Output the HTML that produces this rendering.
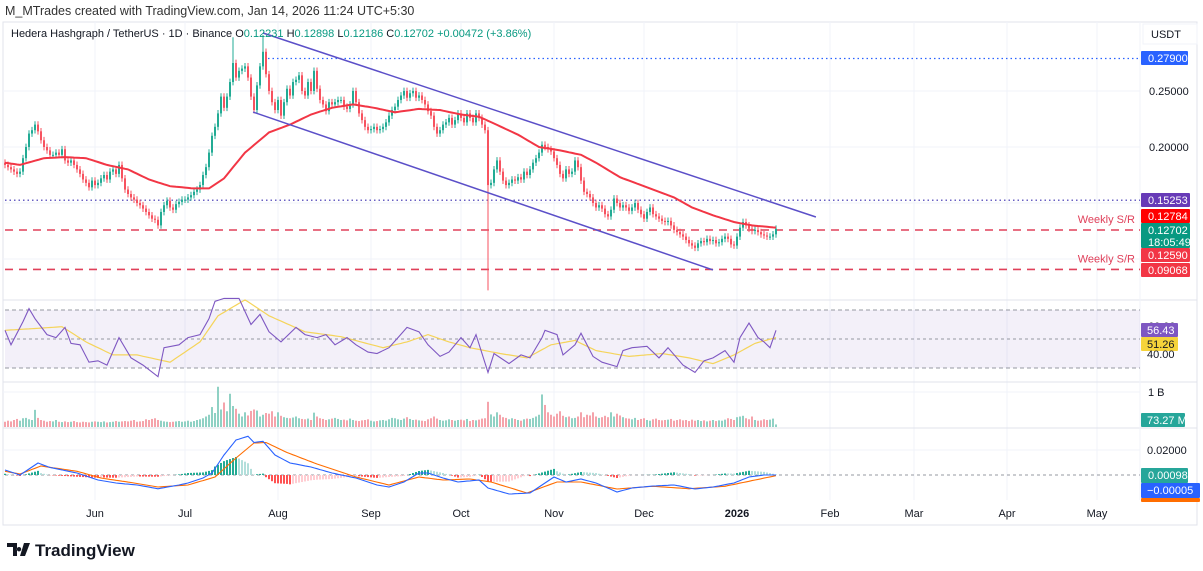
<!DOCTYPE html>
<html><head><meta charset="utf-8"><style>
html,body{margin:0;padding:0;background:#fff;}
svg{display:block;font-family:"Liberation Sans",sans-serif;}
</style></head><body>
<svg id="c" width="1203" height="571" viewBox="0 0 1203 571">
<text x="5" y="15" font-size="12.5" fill="#333">M_MTrades created with TradingView.com, Jan 14, 2026 11:24 UTC+5:30</text>
<rect x="3" y="22" width="1194" height="503" fill="none" stroke="#e0e3eb"/>
<g id="grid"></g>
<g id="price"></g>
<g id="rsi"></g>
<g id="vol"></g>
<g id="macd"></g>
<g id="axis"></g>
<text x="11" y="37" font-size="11" fill="#131722">Hedera Hashgraph / TetherUS · 1D · Binance  <tspan fill="#131722">O</tspan><tspan fill="#089981">0.12231</tspan><tspan fill="#131722">  H</tspan><tspan fill="#089981">0.12898</tspan><tspan fill="#131722">  L</tspan><tspan fill="#089981">0.12186</tspan><tspan fill="#131722">  C</tspan><tspan fill="#089981">0.12702  +0.00472 (+3.86%)</tspan></text>
<g>
<path d="M7 543h10v13h-4v-9h-6z M19 547a2.2 2.2 0 1 0 0.01 0z M24 543h6l-5 13h-5z" fill="#131722"/>
<text x="35" y="556" font-size="17" font-weight="bold" fill="#131722">TradingView</text>
</g>
</svg>
<script>
const closes=[0.184,0.182,0.180,0.178,0.176,0.178,0.190,0.200,0.212,0.215,
0.220,0.214,0.206,0.200,0.197,0.193,0.193,0.195,0.193,0.198,
0.188,0.186,0.188,0.184,0.180,0.176,0.171,0.168,0.164,0.170,
0.166,0.168,0.172,0.175,0.171,0.178,0.180,0.176,0.184,0.172,
0.162,0.158,0.155,0.153,0.150,0.148,0.145,0.142,0.139,0.136,
0.135,0.130,0.142,0.148,0.152,0.146,0.144,0.149,0.151,0.153,
0.153,0.155,0.157,0.160,0.162,0.166,0.175,0.182,0.195,0.210,
0.218,0.230,0.245,0.235,0.245,0.258,0.275,0.262,0.268,0.270,
0.272,0.262,0.245,0.233,0.255,0.272,0.285,0.265,0.250,0.240,
0.233,0.242,0.228,0.240,0.252,0.246,0.258,0.260,0.264,0.250,
0.246,0.258,0.250,0.268,0.252,0.242,0.238,0.232,0.240,0.238,
0.240,0.242,0.242,0.236,0.234,0.238,0.250,0.240,0.230,0.224,
0.218,0.215,0.216,0.218,0.215,0.216,0.218,0.222,0.228,0.233,
0.236,0.242,0.246,0.250,0.244,0.248,0.250,0.244,0.246,0.242,
0.238,0.232,0.228,0.218,0.212,0.215,0.220,0.222,0.226,0.220,
0.224,0.230,0.226,0.222,0.230,0.226,0.222,0.230,0.226,0.220,
0.215,0.166,0.168,0.180,0.188,0.178,0.170,0.166,0.168,0.171,
0.170,0.173,0.171,0.178,0.175,0.180,0.186,0.190,0.195,0.202,
0.200,0.198,0.196,0.190,0.184,0.176,0.172,0.180,0.176,0.178,
0.188,0.182,0.170,0.160,0.158,0.155,0.150,0.146,0.148,0.145,
0.140,0.138,0.144,0.154,0.150,0.146,0.148,0.146,0.143,0.146,
0.150,0.144,0.140,0.136,0.142,0.146,0.140,0.138,0.136,0.134,
0.133,0.134,0.130,0.126,0.124,0.122,0.120,0.117,0.114,0.112,
0.110,0.114,0.116,0.115,0.118,0.116,0.117,0.114,0.115,0.118,
0.120,0.118,0.113,0.112,0.120,0.128,0.133,0.130,0.127,0.125,
0.126,0.124,0.122,0.121,0.120,0.120,0.122,0.127];
const firstOpen=0.186;
const wickHighIdx=[76,86];
const wickHighVal=[0.298,0.300];
const wickLowIdx=[161];
const wickLowVal=[0.072];
const volumes=[150,180,160,200,230,180,250,260,220,200,
490,260,200,180,150,170,160,200,150,140,
160,140,150,170,140,130,150,140,130,150,
160,150,140,160,130,140,150,170,150,160,
170,160,180,200,150,160,170,220,200,230,
250,200,180,160,150,140,150,160,170,150,
160,180,150,170,200,220,250,300,350,570,
400,1150,500,700,450,950,600,520,380,300,
420,330,460,500,470,300,350,400,380,450,
300,420,320,280,260,250,270,300,250,230,
220,240,200,410,300,250,230,200,220,240,
260,230,200,210,190,240,200,180,170,190,
200,220,180,160,170,190,200,180,220,260,
250,220,200,240,280,230,200,210,190,180,
170,220,250,300,240,200,180,190,220,200,
180,200,210,190,230,170,200,190,210,240,
250,720,360,300,420,350,280,260,220,250,
230,200,180,220,240,230,260,300,350,930,
630,420,350,300,380,450,320,280,300,250,
260,300,420,280,350,330,420,300,260,280,
320,280,420,300,380,330,280,250,240,220,
260,200,230,250,200,180,220,240,200,190,
200,210,230,180,200,220,190,200,170,210,
180,200,170,190,160,180,200,170,190,180,
210,250,230,200,280,300,320,250,220,300,
200,180,190,220,200,210,240,73];
const maIdx=[0,5,13,20,27,34,41,48,55,63,68,73,80,88,95,102,109,116,123,130,138,145,152,158,163,171,178,185,192,197,205,214,223,229,236,243,249,257];
const maVal=[0.186,0.184,0.190,0.191,0.190,0.184,0.180,0.171,0.165,0.163,0.163,0.172,0.195,0.213,0.220,0.229,0.235,0.238,0.235,0.231,0.234,0.233,0.229,0.227,0.221,0.211,0.200,0.197,0.193,0.186,0.173,0.164,0.155,0.146,0.139,0.133,0.130,0.128];
const rsiIdx=[0,2,6,8,10,14,17,20,22,25,28,31,34,38,42,46,51,53,58,61,65,68,70,73,78,82,85,88,92,97,100,104,107,110,114,117,121,124,128,131,134,138,141,145,148,152,155,157,161,163,168,172,175,179,180,184,186,190,192,196,199,204,206,209,214,218,221,226,230,233,236,240,243,245,248,251,253,255,257];
const rsiVal=[56,46,62,71,64,53,51,58,47,46,34,35,32,51,37,32,24,44,46,51,53,64,76,78,78,60,67,55,48,58,53,51,53,46,51,46,41,40,44,51,58,55,46,38,41,51,44,53,27,40,33,39,37,51,56,53,39,46,54,38,34,31,42,44,45,37,44,32,27,35,37,42,34,51,61,51,48,44,56];
const rsiMaIdx=[0,8,19,27,36,44,55,65,71,80,88,100,112,126,134,141,148,155,165,174,182,190,197,208,219,228,236,243,250,257];
const rsiMaVal=[56,57,58.5,48,39,39,34,48,66,77,66,55,51.6,44,48,53,48,44,40,37,46,49,42,38,40,37,33,39,47,51];
const macdIdx=[0,5,11,15,24,31,37,44,51,58,61,66,69,73,77,81,83,86,90,95,102,109,117,124,128,133,138,141,146,151,158,161,168,175,180,183,187,192,197,204,209,216,223,230,236,243,248,253,257];
const macdVal=[0.004,0,0.0096,0.006,0.0016,-0.004,-0.0064,-0.008,-0.011,-0.008,-0.0064,-0.0024,0.0016,0.016,0.028,0.031,0.026,0.027,0.016,0.0096,0.0064,0.0016,-0.0024,-0.008,-0.0096,-0.0056,0.0016,0.0016,-0.0024,-0.0056,-0.004,-0.0104,-0.0152,-0.0144,-0.0064,-0.0016,-0.0056,-0.0032,-0.0064,-0.0136,-0.0104,-0.0088,-0.008,-0.0112,-0.0096,-0.0064,-0.0016,0,0];
const sigIdx=[0,5,12,24,32,43,51,61,70,77,83,87,94,104,117,128,138,146,155,162,174,184,192,204,216,228,240,250,257];
const sigVal=[0.003,0.0008,0.0072,0.003,-0.0024,-0.0064,-0.0096,-0.008,-0.0016,0.0136,0.0256,0.026,0.018,0.0088,-0.0016,-0.008,-0.0016,-0.004,-0.0032,-0.0056,-0.0144,-0.0056,-0.0056,-0.0112,-0.009,-0.011,-0.009,-0.004,-0.0005];
const monthLabels=["Jun","Jul","Aug","Sep","Oct","Nov","Dec","2026","Feb","Mar","Apr","May"];
const monthDayIdx=[30,60,91,122,152,183,213,244,275,303,334,364];
const priceTicks=[0.25,0.20];
const priceGrid=[0.10,0.15,0.20,0.25];

const NS="http://www.w3.org/2000/svg";
function el(tag,attrs,parent){const e=document.createElementNS(NS,tag);for(const k in attrs)e.setAttribute(k,attrs[k]);parent.appendChild(e);return e;}
const X=i=>5+3*i;
const Y=p=>147-(p-0.2)*1120;
const RY=r=>339-(r-50)*1.45;
const VY=v=>427-v*0.035;
const MY=m=>475-m*1250;
function interp(idx,val,i){if(i<=idx[0])return val[0];for(let k=1;k<idx.length;k++){if(i<=idx[k]){const t=(i-idx[k-1])/(idx[k]-idx[k-1]);return val[k-1]+t*(val[k]-val[k-1]);}}return val[val.length-1];}
const G=id=>document.getElementById(id);
const grid=G('grid'),price=G('price'),rsi=G('rsi'),vol=G('vol'),macd=G('macd'),axis=G('axis');

monthDayIdx.forEach((d,k)=>{
  const l=el('line',{x1:X(d),x2:X(d),y1:22,y2:500,stroke:'#f0f3fa'},grid);
  
  
  const t=el('text',{x:X(d),y:517,'font-size':11,fill:'#131722','text-anchor':'middle','font-weight':monthLabels[k]==='2026'?'bold':'normal'},axis);
  t.textContent=monthLabels[k];
  
  
});
priceGrid.forEach(p=>{
  const l=el('line',{x1:3,x2:1140,y1:Y(p),y2:Y(p),stroke:'#f0f3fa'},grid);
  
  
});
[[300,'price-rsi-separator'],[382,'rsi-volume-separator'],[428,'volume-macd-separator']].forEach(([y,n])=>{
  const l=el('line',{x1:3,x2:1197,y1:y,y2:y,stroke:'#e0e3eb'},grid);
  
  
});
const ax=el('line',{x1:1140,x2:1140,y1:22,y2:500,stroke:'#f0f3fa'},grid);


[[392,'1b'],[450,'macd-0.02']].forEach(([y,n])=>{
  const l=el('line',{x1:3,x2:1140,y1:y,y2:y,stroke:'#f0f3fa'},grid);
  
  
});

function hl(p,x1,dash,color,w,name){const l=el('line',{x1:x1,x2:1140,y1:Y(p),y2:Y(p),stroke:color,'stroke-width':w,'stroke-dasharray':dash},price);

}
hl(0.279,268,'1.5 3','#2962ff',1.2,'resistance-0.279-line');
hl(0.15253,5,'1.5 3','#3a2fb0',1.2,'level-0.15253-line');
hl(0.1259,5,'8 6','#e0405a',1.6,'weekly-sr-upper-line');
hl(0.09068,5,'8 6','#e0405a',1.6,'weekly-sr-lower-line');
[[0.1259,'weekly-sr-upper-label'],[0.09068,'weekly-sr-lower-label']].forEach(([p,n])=>{
  const t=el('text',{x:1135,y:Y(p)-7,'font-size':11,fill:'#e0405a','text-anchor':'end'},price);
  t.textContent='Weekly S/R';
  
  
});

let prev=firstOpen;
closes.forEach((c,i)=>{
  const o=prev;prev=c;
  const up=c>=o;
  let hi=Math.max(o,c)+0.003,lo=Math.min(o,c)-0.003;
  const hk=wickHighIdx.indexOf(i);if(hk>=0)hi=wickHighVal[hk];
  const lk=wickLowIdx.indexOf(i);if(lk>=0)lo=wickLowVal[lk];
  const col=up?'#22ab94':'#f7525f';
  const w=el('line',{x1:X(i),x2:X(i),y1:Y(hi),y2:Y(lo),stroke:col,'stroke-width':1},price);
  
  
  const b=el('rect',{x:X(i)-1,y:Math.min(Y(o),Y(c)),width:2,height:Math.max(1,Math.abs(Y(o)-Y(c))),fill:col},price);
  
  
});
let d='';for(let i=0;i<closes.length;i++){d+=(i?'L':'M')+X(i)+' '+Y(interp(maIdx,maVal,i)).toFixed(1);}
const ma=el('path',{d:d,fill:'none',stroke:'#f23645','stroke-width':2},price);


const chU=el('line',{x1:X(86),y1:Y(0.3018),x2:X(270.3),y2:Y(0.1375),stroke:'#5b4fc8','stroke-width':1.5},price);


const chL=el('line',{x1:X(82.7),y1:Y(0.2312),x2:X(236),y2:Y(0.0902),stroke:'#5b4fc8','stroke-width':1.5},price);



const band=el('rect',{x:5,y:RY(70),width:1135,height:RY(30)-RY(70),fill:'#7e57c2','fill-opacity':0.09},rsi);


[70,50,30].forEach(v=>{const l=el('line',{x1:5,x2:1140,y1:RY(v),y2:RY(v),stroke:'#9598a1','stroke-dasharray':v===50?'3 3':'4 3'},rsi);

});
d='';for(let i=0;i<closes.length;i++){d+=(i?'L':'M')+X(i)+' '+RY(interp(rsiMaIdx,rsiMaVal,i)).toFixed(1);}
const rm=el('path',{d:d,fill:'none',stroke:'#f5d45a','stroke-width':1.2},rsi);


d='';rsiIdx.forEach((ix,k)=>{d+=(k?'L':'M')+X(ix)+' '+RY(rsiVal[k]).toFixed(1);});
const rl=el('path',{d:d,fill:'none',stroke:'#7e57c2','stroke-width':1.1},rsi);



prev=firstOpen;
volumes.forEach((v,i)=>{
  const up=closes[i]>=prev;prev=closes[i];
  const r=el('rect',{x:X(i)-1,y:VY(v),width:2,height:427-VY(v),fill:up?'#8fd1c4':'#f5a3ab'},vol);
  
  
});

const z=el('line',{x1:5,x2:1140,y1:MY(0),y2:MY(0),stroke:'#9598a1','stroke-dasharray':'3 3'},macd);


let ph=0;
for(let i=0;i<closes.length;i++){
  const h=interp(macdIdx,macdVal,i)-interp(sigIdx,sigVal,i);
  const col=h>=0?(h>=ph?'#22ab94':'#b2dfdb'):(h<ph?'#ff5252':'#ffcdd2');ph=h;
  const r=el('rect',{x:X(i)-1,y:Math.min(MY(h),MY(0)),width:2,height:Math.abs(MY(h)-MY(0)),fill:col},macd);
  
  
}
d='';for(let i=0;i<closes.length;i++){d+=(i?'L':'M')+X(i)+' '+MY(interp(sigIdx,sigVal,i)).toFixed(1);}
const sl=el('path',{d:d,fill:'none',stroke:'#ff6d00','stroke-width':1.1},macd);


d='';for(let i=0;i<closes.length;i++){d+=(i?'L':'M')+X(i)+' '+MY(interp(macdIdx,macdVal,i)).toFixed(1);}
const ml=el('path',{d:d,fill:'none',stroke:'#2962ff','stroke-width':1.1},macd);



function txt(x,y,s,col,name,size){const t=el('text',{x:x,y:y,'font-size':size||11,fill:col},axis);t.textContent=s;

return t;}
function box(y,h,w,bg,name){const r=el('rect',{x:1141,y:y,width:w,height:h,fill:bg,rx:1},axis);

}
const ub=el('rect',{x:1143,y:24,width:54,height:20,fill:'#fff',stroke:'#f0f3fa'},axis);


txt(1151,38,'USDT','#131722','currency-label');
priceTicks.forEach(p=>txt(1149,Y(p)+4,p.toFixed(5),'#131722','y-tick-label'));
box(51,14,47,'#2962ff','label-0.27900-box');txt(1148,62,'0.27900','#fff','label-0.27900');
box(193,14,49,'#673ab7','label-0.15253-box');txt(1148,204,'0.15253','#fff','label-0.15253');
box(209,14,49,'#f00','label-ma-box');txt(1148,220,'0.12784','#fff','label-ma-value');
box(223,25,49,'#089981','label-last-price-box');txt(1148,234,'0.12702','#fff','label-last-price');txt(1148,246,'18:05:49','#fff','label-countdown');
box(248,14,49,'#f23645','label-0.12590-box');txt(1148,259,'0.12590','#fff','label-0.12590');
box(263,14,49,'#f23645','label-0.09068-box');txt(1148,274,'0.09068','#fff','label-0.09068');
txt(1148,330,'60.00','#131722','rsi-tick-60');
box(323,14,37,'#7e57c2','rsi-value-box');txt(1147,334,'56.43','#fff','rsi-value');
box(337,14,37,'#f5d33a','rsi-ma-value-box');txt(1147,348,'51.26','#131722','rsi-ma-value');
txt(1147,358,'40.00','#131722','rsi-tick-40');
txt(1148,396,'1 B','#131722','volume-tick-1b');
box(413,14,44,'#26a69a','volume-value-box');txt(1147,424,'73.27 M','#fff','volume-value');
txt(1147,454,'0.02000','#131722','macd-tick-0.02');
box(468,15,47,'#26a69a','macd-hist-value-box');txt(1148,479,'0.00098','#fff','macd-hist-value');
box(483,15,59,'#2962ff','macd-value-box');txt(1147,494,'−0.00005','#fff','macd-value');
box(498,4,59,'#ff6d00','macd-signal-value-box');
</script>
</body></html>
